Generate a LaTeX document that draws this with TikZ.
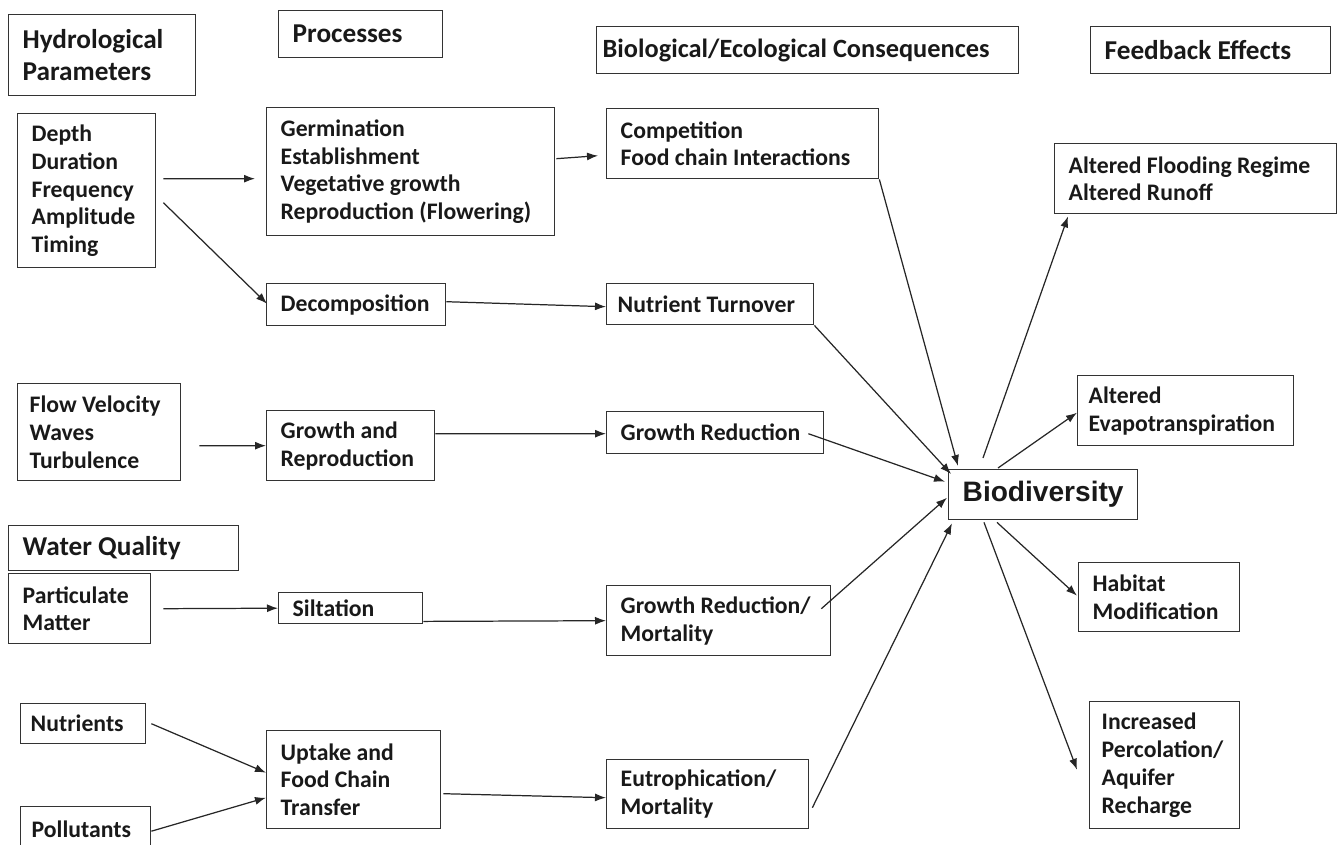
\documentclass[tikz,border=0pt]{standalone}
\usepackage{fontspec}
\setmainfont{Carlito}
\newfontfamily\arialfont{Liberation Sans}
\usetikzlibrary{arrows.meta,calc}
\newcommand{\bodyfont}{\fontsize{13.5}{15.8}\selectfont\bfseries\hyphenpenalty=10000}
\newcommand{\headfont}{\fontsize{15.5}{18.5}\selectfont\bfseries\hyphenpenalty=10000}

\begin{document}
\begin{tikzpicture}[x=0.02cm,y=-0.02cm,
  box/.style={draw=black!80,line width=0.8pt,anchor=north west,align=flush left,
    inner xsep=0.28cm,inner ysep=0pt,text=black!90,font=\bodyfont},
  hdr/.style={box,font=\headfont},
  arr/.style={-{Latex[length=0.22cm,width=0.16cm]},line width=0.7pt,black!85}]
  \useasboundingbox (0,0) rectangle (1340,845);
  % Column headers
  \node[hdr,text width=3.18cm,minimum height=1.62cm] (hhydro) at (8,14) {Hydrological\\Parameters};
  \node[hdr,text width=2.72cm,minimum height=0.94cm] (hproc) at (278,10) {Processes};
  \node[hdr,inner xsep=0.12cm,text width=8.2cm,minimum height=0.94cm,
    font=\fontsize{15}{18}\selectfont\bfseries] (hcons) at (596,26) {Biological/Ecological Consequences};
  \node[hdr,text width=4.24cm,minimum height=0.94cm] (hfeed) at (1090,26) {Feedback Effects};
  \node[hdr,text width=4.04cm,minimum height=0.9cm] (hwater) at (8,525) {Water Quality};
  % Hydrological parameters
  \node[box,text width=2.2cm,minimum height=3.08cm] (depth) at (17,113) {Depth\\Duration\\Frequency\\Amplitude\\Timing};
  \node[box,inner xsep=0.24cm,text width=2.78cm,minimum height=1.94cm] (flow) at (17,383) {Flow Velocity\\Waves\\Turbulence};
  \node[box,text width=2.28cm,minimum height=1.4cm] (partic) at (8,573) {Particulate\\Matter};
  \node[box,inner xsep=0.2cm,text width=2.1cm,minimum height=0.8cm] (nutr) at (20,703) {Nutrients};
  \node[box,inner xsep=0.22cm,text width=2.16cm,minimum height=0.9cm] (pollut) at (20,806) {Pollutants};
  % Processes
  \node[box,text width=5.2cm,minimum height=2.56cm] (germ) at (266,107) {Germination\\Establishment\\Vegetative growth\\Reproduction (Flowering)};
  \node[box,text width=3.02cm,minimum height=0.84cm] (decomp) at (266,283) {Decomposition};
  \node[box,text width=2.8cm,minimum height=1.4cm] (growrep) at (266,410) {Growth and\\Reproduction};
  \node[box,text width=2.32cm,minimum height=0.62cm] (silt) at (278,592) {Siltation};
  \node[box,text width=2.92cm,minimum height=1.96cm] (uptake) at (266,730) {Uptake and\\Food Chain\\Transfer};
  % Consequences
  \node[box,text width=4.88cm,minimum height=1.4cm] (compet) at (606,108) {Competition\\Food chain Interactions};
  \node[box,inner xsep=0.22cm,text width=3.7cm,minimum height=0.82cm] (nturn) at (606,283) {Nutrient Turnover};
  \node[box,text width=3.78cm,minimum height=0.84cm] (gred) at (606,411) {Growth Reduction};
  \node[box,text width=3.92cm,minimum height=1.4cm] (gredmort) at (606,585) {Growth Reduction/\\Mortality};
  \node[box,text width=3.48cm,minimum height=1.38cm] (eutro) at (606,759) {Eutrophication/\\Mortality};
  % Biodiversity
  \node[box,text width=3.22cm,minimum height=1cm,font=\arialfont\fontsize{16}{19}\selectfont\bfseries] (biodiv) at (948,469) {Biodiversity};
  % Feedback effects
  \node[box,text width=5.08cm,minimum height=1.4cm] (flood) at (1054,143) {Altered Flooding Regime\\Altered Runoff};
  \node[box,inner xsep=0.22cm,text width=3.88cm,minimum height=1.4cm] (evap) at (1077,375) {Altered\\Evapotranspiration};
  \node[box,text width=2.66cm,minimum height=1.38cm] (habitat) at (1078,562) {Habitat\\Modification};
  \node[box,inner xsep=0.24cm,text width=2.52cm,minimum height=2.54cm] (percol) at (1089,701) {Increased\\Percolation/\\Aquifer\\Recharge};
  % Arrows into processes
  \draw[arr] ($(depth.east)+(7,-12)$) -- ($(germ.west)+(-11,7)$);
  \draw[arr] ($(depth.east)+(7,12)$) -- ($(decomp.west)+(1,-1)$);
  \draw[arr] ($(flow.east)+(18,13.5)$) -- (growrep.west);
  \draw[arr] ($(partic.east)+(12,0)$) -- (silt.west);
  \draw[arr] ($(nutr.east)+(5,0)$) -- ($(uptake.west)+(0,-7)$);
  \draw[arr] ($(pollut.east)+(0,2)$) -- ($(uptake.west)+(0,18)$);
  % Arrows into consequences
  \draw[arr] ($(germ.east)+(1,-13)$) -- ($(compet.west)+(-8,12)$);
  \draw[arr] ($(decomp.east)+(0,-3)$) -- ($(nturn.west)+(0,2.5)$);
  \draw[arr] ($(growrep.east)+(0,-12)$) -- ($(gred.west)+(0,1)$);
  \draw[arr] ($(silt.south east)+(0,-3)$) -- (gredmort.west);
  \draw[arr] ($(uptake.east)+(2,14)$) -- ($(eutro.west)+(0,3.5)$);
  % Arrows into biodiversity
  \draw[arr] (compet.south east) -- ($(biodiv.north west)+(10,-3)$);
  \draw[arr] (nturn.south east) -- ($(biodiv.north west)+(3,5)$);
  \draw[arr] ($(gred.east)+(-16,1)$) -- ($(biodiv.west)+(-3,-13)$);
  \draw[arr] ($(gredmort.east)+(-10,-12)$) -- ($(biodiv.west)+(-1,3)$);
  \draw[arr] ($(eutro.east)+(3,13.5)$) -- ($(biodiv.south west)+(4,3)$);
  % Feedback arrows
  \draw[arr] ($(biodiv.north west)+(35,-11)$) -- ($(flood.south west)+(14,2)$);
  \draw[arr] ($(biodiv.north west)+(50,-1)$) -- ($(evap.west)+(0,2)$);
  \draw[arr] ($(biodiv.south west)+(49,2)$) -- ($(habitat.west)+(-1,-1.5)$);
  \draw[arr] ($(biodiv.south west)+(36,2)$) -- ($(percol.west)+(-12,4.5)$);
\end{tikzpicture}
\end{document}
